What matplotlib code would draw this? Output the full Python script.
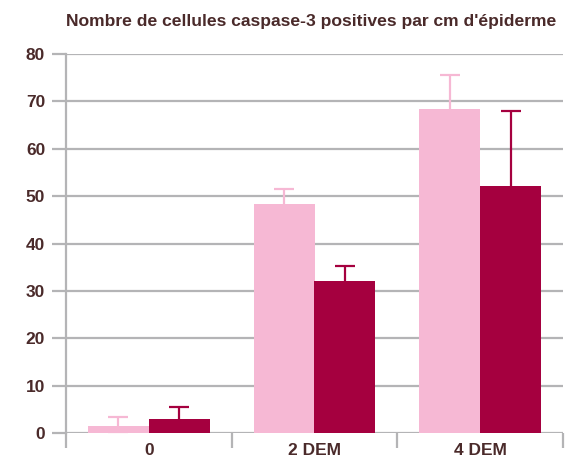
import matplotlib.pyplot as plt
import numpy as np

# Données
categories = ['0', '2 DEM', '4 DEM']
valeurs_clair = [1.5, 48.4, 68.4]
erreurs_clair = [1.9, 3.1, 7.1]
valeurs_fonce = [3.0, 32.1, 52.2]
erreurs_fonce = [2.4, 3.2, 15.8]
graduations_y = [0, 10, 20, 30, 40, 50, 60, 70, 80]

# Couleurs
rose = '#F6B8D4'
bordeaux = '#A5003F'
texte = '#4A2A2A'
gris = '#B4B4B6'

plt.rcParams['font.family'] = ['Liberation Sans', 'DejaVu Sans']

fig = plt.figure(figsize=(5.72, 4.58), dpi=100)
ax = fig.add_axes([66 / 572, 25 / 458, 497 / 572, 379 / 458])

x = np.arange(len(categories))
largeur = 0.368

# Barres d'erreur symétriques, cachées en partie par les barres
ax.errorbar(x - largeur / 2, valeurs_clair, yerr=erreurs_clair,
            fmt='none', ecolor=rose, elinewidth=1.6, capsize=7, capthick=1.6, zorder=2)
ax.errorbar(x + largeur / 2, valeurs_fonce, yerr=erreurs_fonce,
            fmt='none', ecolor=bordeaux, elinewidth=1.6, capsize=7, capthick=1.6, zorder=2)
ax.bar(x - largeur / 2, valeurs_clair, largeur, color=rose, zorder=4)
ax.bar(x + largeur / 2, valeurs_fonce, largeur, color=bordeaux, zorder=4)

# Axes
ax.set_xlim(-0.5, 2.5)
ax.set_ylim(0, 80)
ax.set_yticks(graduations_y)
ax.yaxis.grid(True, color=gris, linewidth=1.6, zorder=0)
ax.tick_params(axis='y', length=10, width=1.6, color=gris, pad=5,
               labelsize=12.5, labelcolor=texte)
for lbl in ax.get_yticklabels():
    lbl.set_fontweight('bold')

ax.set_xticks(x)
ax.set_xticklabels(categories, fontsize=12.5, fontweight='bold', color=texte)
ax.set_xticks([-0.5, 0.5, 1.5, 2.5], minor=True)
ax.tick_params(axis='x', which='major', length=0, pad=7)
ax.tick_params(axis='x', which='minor', length=11, width=1.6, color=gris)

for cote in ['top', 'right', 'bottom']:
    ax.spines[cote].set_visible(False)
ax.spines['left'].set_color(gris)
ax.spines['left'].set_linewidth(1.6)

fig.text(0.544, 0.953, "Nombre de cellules caspase-3 positives par cm d'épiderme",
         ha='center', va='center', fontsize=12.6, fontweight='bold', color=texte)

fig.savefig('out.png', dpi=100)
